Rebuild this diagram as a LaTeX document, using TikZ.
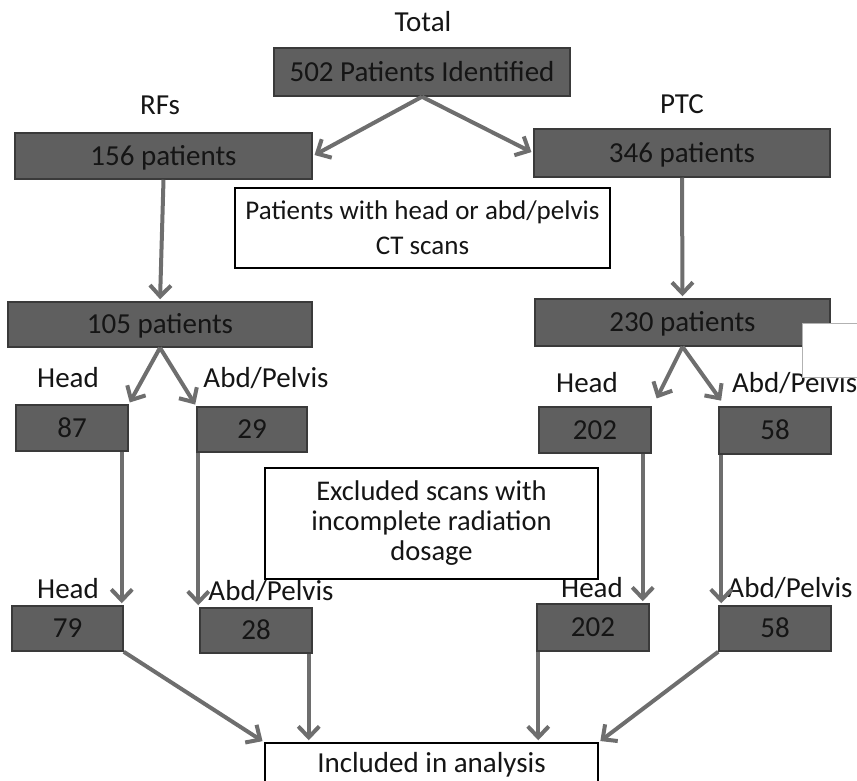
\documentclass[tikz,border=0pt]{standalone}
\usepackage{fontspec}
\setmainfont{Carlito}
\usetikzlibrary{arrows.meta}
\definecolor{boxfill}{HTML}{5F5F5F}
\definecolor{boxborder}{HTML}{3A3A3A}
\definecolor{arrowgray}{HTML}{6E6E6E}
\definecolor{txt}{HTML}{151515}
\begin{document}
\begin{tikzpicture}[x=1pt,y=-1pt,
  dbox/.style={draw=boxborder, fill=boxfill, line width=1.5pt, inner sep=0pt,
    text=txt, font=\fontsize{29}{31}\selectfont, text height=18.5pt, text depth=0pt},
  wbox/.style={draw=black, fill=white, line width=1.5pt, inner sep=0pt, align=center,
    text=txt},
  lbl/.style={inner sep=0pt, anchor=base, text=txt, font=\fontsize{29}{31}\selectfont},
  arr/.style={draw=arrowgray, line width=4pt, -{Straight Barb[length=11pt,width=21pt]},
    shorten >=2pt}
]
\useasboundingbox (0,0) rectangle (857,781);

% labels
\node[lbl] (ltotal) at (423,32) {Total};
\node[lbl] (lrf) at (160,115) {RFs};
\node[lbl] (lptc) at (682,114) {PTC};
\node[lbl] (lh1) at (68,387) {Head};
\node[lbl] (la1) at (266,387) {Abd/Pelvis};
\node[lbl] (lh2) at (587,392) {Head};
\node[lbl,anchor=base west] (la2) at (732,392) {Abd/Pelvis};
\node[lbl] (lh3) at (68,598) {Head};
\node[lbl] (la3) at (271,600) {Abd/Pelvis};
\node[lbl] (lh4) at (592,597) {Head};
\node[lbl] (la4) at (790,597) {Abd/Pelvis};

% boxes
\node[dbox, minimum width=296pt, minimum height=48pt] (top) at (422,72) {502 Patients Identified};
\node[dbox, minimum width=297pt, minimum height=46pt] (r1) at (163.5,156) {156 patients};
\node[dbox, minimum width=296pt, minimum height=48pt] (p1) at (682,153) {346 patients};
\node[wbox, minimum width=375pt, minimum height=80pt, font=\fontsize{27}{35}\selectfont] (note1) at (422.5,228) {Patients with head or abd/pelvis\\CT scans};
\node[dbox, minimum width=304pt, minimum height=45pt] (r2) at (160,324.5) {105 patients};
\node[dbox, minimum width=295pt, minimum height=47pt] (p2) at (682.5,322.5) {230 patients};
\node[draw=gray!60, fill=white, line width=1pt, minimum width=80pt, minimum height=54pt, inner sep=0pt] (blank) at (842,350) {};

\node[dbox, minimum width=112pt, minimum height=46pt] (r3h) at (72,428) {87};
\node[dbox, minimum width=110pt, minimum height=45pt] (r3a) at (252,429.5) {29};
\node[dbox, minimum width=112pt, minimum height=46pt] (p3h) at (595,430) {202};
\node[dbox, minimum width=112pt, minimum height=47pt] (p3a) at (775,430.5) {58};

\node[wbox, minimum width=333pt, minimum height=111pt, font=\fontsize{28.5}{30}\selectfont] (note2) at (431.5,523.5) {Excluded scans with\\incomplete radiation\\dosage};

\node[dbox, minimum width=111pt, minimum height=45pt] (r4h) at (67.5,628.5) {79};
\node[dbox, minimum width=112pt, minimum height=45pt] (r4a) at (256,630.5) {28};
\node[dbox, minimum width=112pt, minimum height=47pt] (p4h) at (593,627.5) {202};
\node[dbox, minimum width=112pt, minimum height=45pt] (p4a) at (775,628.5) {58};

\node[wbox, minimum width=333pt, minimum height=40pt, font=\fontsize{29}{31}\selectfont, text height=18.5pt, text depth=0pt] (inc) at (431.5,763) {Included in analysis};

% connectors
\draw[arr] (top.south) -- (r1.east);
\draw[arr] (top.south) -- (p1.west);
\draw[arr] (r1.south) -- (r2.north);
\draw[arr] (p1.south) -- (p2.north);
\draw[arr] (r2.south) -- (r3h.north east);
\draw[arr] (r2.south) -- (r3a.north west);
\draw[arr] (p2.south) -- ([shift={(4,-6)}]p3h.north east);
\draw[arr] (p2.south) -- ([shift={(4,-4)}]p3a.north west);

\draw[arr] ([xshift=-7pt]r3h.south east) -- ([xshift=-7pt]r3h.south east |- r4h.north);
\draw[arr] ([xshift=2pt]r3a.south west) -- ([xshift=2pt]r3a.south west |- r4a.north);
\draw[arr] ([xshift=-9pt]p3h.south east) -- ([xshift=-9pt]p3h.south east |- p4h.north);
\draw[arr] ([xshift=3pt]p3a.south west) -- ([xshift=3pt]p3a.south west |- p4a.north);

\draw[arr] (r4h.south east) -- (inc.north west);
\draw[arr] ([xshift=-4pt]r4a.south east) -- ([xshift=-4pt]r4a.south east |- inc.north);
\draw[arr] ([xshift=2pt]p4h.south west) -- ([xshift=2pt]p4h.south west |- inc.north);
\draw[arr] (p4a.south west) -- (inc.north east);
\end{tikzpicture}
\end{document}
